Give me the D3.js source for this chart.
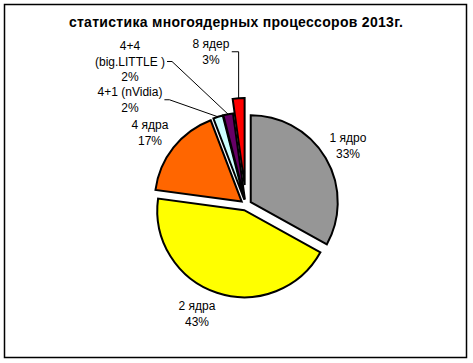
<!DOCTYPE html>
<html><head><meta charset="utf-8">
<script src="https://cdn.jsdelivr.net/npm/d3@7"></script>
<style>
html,body{margin:0;padding:0;background:#fff;}
svg{display:block;}
text{font-family:"Liberation Sans",Arial,sans-serif;fill:#000;}
</style></head>
<body>
<svg id="chart" width="473" height="363"></svg>
<script>
// ---- data (slice sizes estimated from the drawn angles; labels as printed) ----
const title = "статистика многоядерных процессоров 2013г.";
const categories = ["1 ядро", "2 ядра", "4 ядра", "4+1 (nVidia)", "4+4\n(big.LITTLE )", "8 ядер"];
const values = [33.1, 44.2, 17.1, 1.8, 1.8, 2.2];
const percentLabels = ["33%", "43%", "17%", "2%", "2%", "3%"];

// ---- styles / layout ----
const colors = ["#969696", "#FFFF00", "#FF6600", "#CCFFFF", "#660066", "#FF0000"];
const explode = [5.5, 5.5, 5.5, 5.5, 5.5, 20];
const labelOffset = [ // relative to pie centre: x centre, first baseline
  [102, -63], [-49, 105], [-96, -76], [-116, -109], [-116, -155], [-35, -157]
];
const withLeader = [false, false, false, true, true, true];

const svg = d3.select("#chart");
svg.append("rect").attr("x", 4.5).attr("y", 4.5).attr("width", 462).attr("height", 353)
  .attr("fill", "#fff").attr("stroke", "#000").attr("stroke-width", 1.5);

svg.append("text").attr("x", 236).attr("y", 27).attr("text-anchor", "middle")
  .style("font-size", "14px").style("font-weight", "bold").style("letter-spacing", "0.3px")
  .text(title);

const cx = 246, cy = 205, R = 87;
const pie = d3.pie().sort(null).value(d => d)
  .startAngle(0).endAngle(2 * Math.PI);
const arcs = pie(values);
const arc = d3.arc().innerRadius(0).outerRadius(R);

const g = svg.append("g").attr("transform", `translate(${cx},${cy})`);

arcs.forEach((a, i) => {
  const mid = (a.startAngle + a.endAngle) / 2;
  a.ox = Math.sin(mid) * explode[i];
  a.oy = -Math.cos(mid) * explode[i];
  a.mid = mid;
});

g.selectAll("path.slice").data(arcs).join("path")
  .attr("class", "slice")
  .attr("transform", d => `translate(${d.ox},${d.oy})`)
  .attr("d", arc)
  .attr("fill", (d, i) => colors[i])
  .attr("stroke", "#000").attr("stroke-width", 2).attr("stroke-linejoin", "miter");

// labels
arcs.forEach((a, i) => {
  const lines = categories[i].split("\n").concat([percentLabels[i]]);
  const [lx, ly] = labelOffset[i];
  const t = g.append("text").attr("text-anchor", "middle").style("font-size", "12px");
  lines.forEach((s, k) => {
    t.append("tspan").attr("x", lx).attr("y", ly + k * 15.5).text(s);
  });
  if (withLeader[i]) {
    const bb = t.node().getBBox();
    const sx = bb.x + bb.width + 2;
    const sy = bb.y + bb.height / 2;
    const tx = a.ox + Math.sin(a.mid) * R;
    const ty = a.oy - Math.cos(a.mid) * R;
    g.append("path")
      .attr("d", `M${sx},${sy}H${i === 5 ? tx : sx + 5}L${tx},${ty}`)
      .attr("fill", "none").attr("stroke", "#000").attr("stroke-width", 1);
  }
});
</script>
</body></html>
